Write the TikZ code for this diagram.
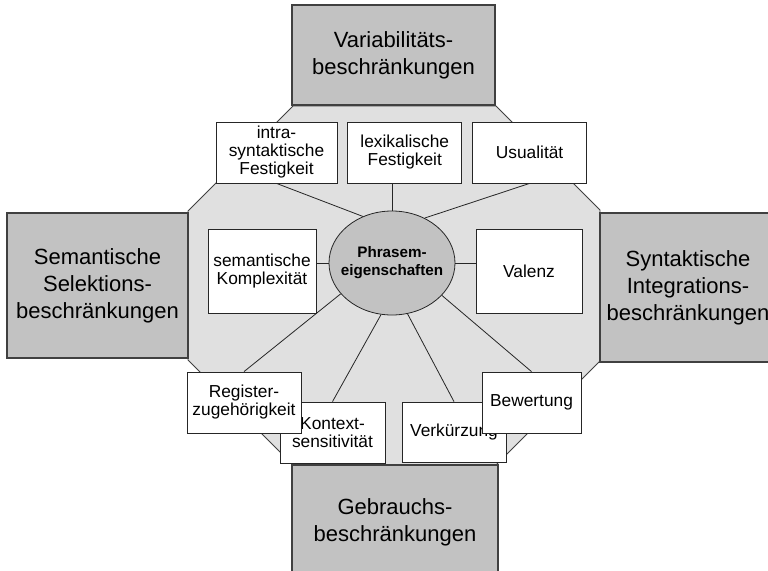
\documentclass[tikz,border=0pt]{standalone}
\usepackage{fontspec}
\setmainfont{Liberation Sans}
\usetikzlibrary{shapes.geometric,positioning}
\tikzset{
  lim/.style={draw=black!75, line width=1pt, fill=black!24, align=center, inner sep=0pt, font=\fontsize{16.5}{20.25}\selectfont},
  prop/.style={draw=black!85, line width=0.6pt, fill=white, align=center, inner sep=0pt, font=\fontsize{13}{13.5}\selectfont},
  kern/.style={ellipse, draw=black!85, line width=0.6pt, fill=black!24, align=center, inner xsep=-8pt, inner ysep=0pt,
               minimum width=94.5pt, minimum height=78pt, font=\bfseries\fontsize{11.4}{13.5}\selectfont},
  spoke/.style={draw=black!85, line width=0.6pt},
  wh/.style 2 args={minimum width=#1, minimum height=#2}
}

\begin{document}
\begin{tikzpicture}[x=0.75pt, y=-0.75pt]
\useasboundingbox (0,0) rectangle (768,571);
% field
\draw[black!75, line width=0.6pt, fill=black!12] (293,106) -- (496,106) -- (600,210) -- (600,361) -- (496,465) -- (293,465) -- (188,360) -- (188,211) -- cycle;
% outer limits
\node[lim, wh={152.25pt}{75pt}] (var) at (393.5,55) {Variabilitäts-\\beschränkungen};
\node[lim, wh={135.75pt}{108.75pt}] (sel) at (97.5,285.5) {Semantische\\Selektions-\\beschränkungen};
\node[lim, wh={132pt}{111.75pt}] (int) at (688,287.5) {Syntaktische\\Integrations-\\beschränkungen};
\node[lim, wh={154.5pt}{85.5pt}] (geb) at (395,522) {Gebrauchs-\\beschränkungen};
% properties
\node[prop, wh={90.75pt}{45.75pt}] (intra) at (276.5,152.5) {intra-\\syntaktische\\Festigkeit};
\node[prop, wh={85.5pt}{45.75pt}, right=7.5pt of intra] (lex) {lexikalische\\Festigkeit};
\node[prop, wh={85.5pt}{45.75pt}, right=7.5pt of lex] (usu) {Usualität};
\node[prop, wh={81pt}{63pt}] (sem) at (262,271) {semantische\\Komplexität};
\node[prop, wh={79.5pt}{63pt}] (val) at (529,271) {Valenz};
\node[kern] (ell) at (392,263) {Phrasem-\\eigenschaften};
\node[prop, wh={78.75pt}{45.75pt}] (kon) at (332.5,432.5) {Kontext-\\sensitivität};
\node[prop, wh={85.5pt}{45.75pt}] (reg) at (244,402.5) {Register-\\zugehörigkeit};
\node[prop, wh={78pt}{45pt}] (verk) at (454,432) {Verkürzung};
\node[prop, wh={74.25pt}{45.75pt}] (bew) at (531.5,402.5) {Bewertung};
% spokes
\draw[spoke] (ell.122) -- (intra.south);
\draw[spoke] (ell.north) -- (ell.north |- lex.south);
\draw[spoke] (ell.54) -- (usu.south);
\draw[spoke] (ell.west) -- (ell.west -| sem.east);
\draw[spoke] (ell.east) -- (ell.east -| val.west);
\draw[spoke] (ell.211) -- (reg.north);
\draw[spoke] (ell.258) -- (kon.north);
\draw[spoke] (ell.287) -- (verk.north);
\draw[spoke] (ell.327) -- (bew.north);
\end{tikzpicture}
\end{document}
